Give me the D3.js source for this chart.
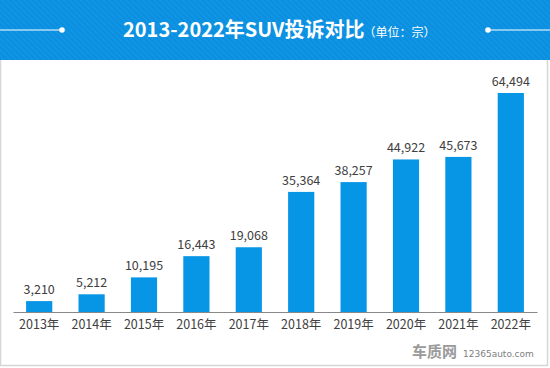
<!DOCTYPE html>
<html><head><meta charset="utf-8">
<script src="https://cdn.jsdelivr.net/npm/d3@7/dist/d3.min.js"></script>
<style>body{margin:0;background:#fff;}svg{display:block;}</style>
</head><body>
<svg id="c" width="550" height="368"></svg>
<script>
const years = ["2013年","2014年","2015年","2016年","2017年","2018年","2019年","2020年","2021年","2022年"];
const complaints = [3210,5212,10195,16443,19068,35364,38257,44922,45673,64494];
const title = "2013-2022年SUV投诉对比";
const unit = "（单位：宗）";

const svg = d3.select("#c");
const W = 550, H = 368;
const defs = svg.append("defs");
const pat = defs.append("pattern").attr("id","stripe").attr("patternUnits","userSpaceOnUse")
  .attr("width",4).attr("height",4).attr("patternTransform","rotate(-45)");
pat.append("rect").attr("width",4).attr("height",4).attr("fill","#0a8fe0");
pat.append("rect").attr("width",2).attr("height",4).attr("fill","#1194e3");

// frame
svg.append("rect").attr("x",0.5).attr("y",0.5).attr("width",W-3).attr("height",H-3)
  .attr("fill","#fff").attr("stroke","#d6d6d6").attr("stroke-width",1.5);
svg.append("rect").attr("x",0).attr("y",0).attr("width",W).attr("height",60).attr("fill","url(#stripe)");

// title lines
svg.append("line").attr("x1",0).attr("x2",62).attr("y1",30).attr("y2",30).attr("stroke","#fff").attr("stroke-width",1.2);
svg.append("line").attr("x1",488).attr("x2",W).attr("y1",30).attr("y2",30).attr("stroke","#fff").attr("stroke-width",1.2);
svg.append("circle").attr("cx",62).attr("cy",30).attr("r",2.8).attr("fill","#fff");
svg.append("circle").attr("cx",488).attr("cy",30).attr("r",2.8).attr("fill","#fff");

const t = svg.append("text").attr("x",123).attr("y",37).attr("fill","#fff")
  .style("font-family","'Noto Sans CJK SC','Noto Sans',sans-serif");
t.append("tspan").text(title).style("font-size","20px").style("font-weight","bold");
t.append("tspan").text(unit).style("font-size","12px").attr("dx",-1);

const x = d3.scaleBand().domain(years).range([13,537]).paddingInner(0.5).paddingOuter(0.25);
const y = d3.scaleLinear().domain([0,64494]).range([312,93]);

svg.append("g").selectAll("rect").data(complaints).join("rect")
  .attr("x",(d,i)=>x(years[i])).attr("width",x.bandwidth())
  .attr("y",d=>y(d)).attr("height",d=>y(0)-y(d)).attr("fill","#0795e5");

svg.append("g").selectAll("text").data(complaints).join("text")
  .attr("x",(d,i)=>x(years[i])+x.bandwidth()/2).attr("y",d=>y(d)-7)
  .attr("text-anchor","middle").attr("fill","#404040")
  .style("font-family","'Noto Sans CJK SC','Noto Sans',sans-serif").style("font-size","12.5px")
  .text(d=>d3.format(",")(d));

const ax = svg.append("g").attr("transform","translate(0,312)")
  .call(d3.axisBottom(x).tickSize(0).tickPadding(8));
ax.select(".domain").attr("stroke","#888").attr("stroke-width",1.2);
ax.selectAll("text").attr("fill","#404040")
  .style("font-family","'Noto Sans CJK SC','Noto Sans',sans-serif").style("font-size","12.5px");

// watermark
svg.append("text").attr("x",412).attr("y",357).attr("fill","#9a9a9a")
  .style("font-family","'Noto Sans CJK SC',sans-serif").style("font-size","15px").style("font-weight","bold")
  .text("车质网");
svg.append("text").attr("x",463).attr("y",357).attr("fill","#808080")
  .style("font-family","'DejaVu Sans',sans-serif").style("font-size","9px").text("12365auto.com");
</script>
</body></html>
